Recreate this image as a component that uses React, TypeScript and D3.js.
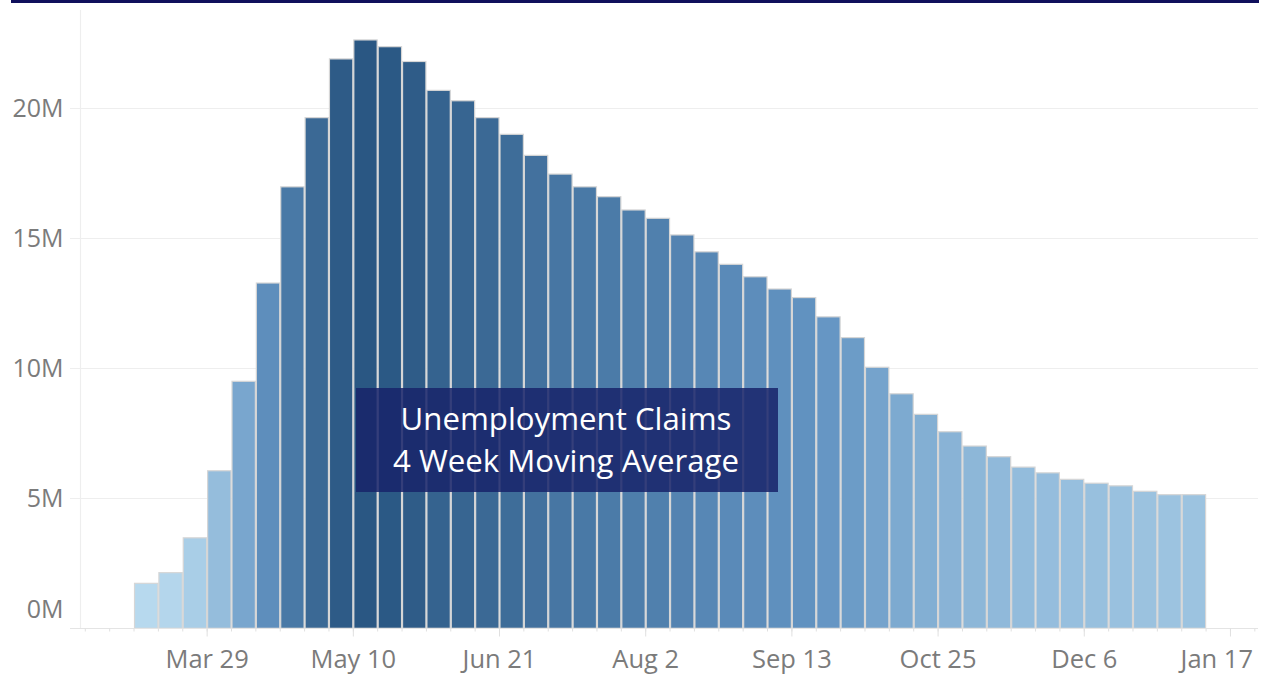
import React from "react";
import * as d3 from "d3";

// Week start dates (Sundays), 2020-2021
const weekStarts: string[] = [
  "2020-03-08","2020-03-15","2020-03-22","2020-03-29","2020-04-05","2020-04-12","2020-04-19","2020-04-26",
  "2020-05-03","2020-05-10","2020-05-17","2020-05-24","2020-05-31","2020-06-07","2020-06-14","2020-06-21",
  "2020-06-28","2020-07-05","2020-07-12","2020-07-19","2020-07-26","2020-08-02","2020-08-09","2020-08-16",
  "2020-08-23","2020-08-30","2020-09-06","2020-09-13","2020-09-20","2020-09-27","2020-10-04","2020-10-11",
  "2020-10-18","2020-10-25","2020-11-01","2020-11-08","2020-11-15","2020-11-22","2020-11-29","2020-12-06",
  "2020-12-13","2020-12-20","2020-12-27","2021-01-03"
];

// 4-week moving average of unemployment claims, millions
const claims: number[] = [
  1.73, 2.14, 3.48, 6.06, 9.5, 13.28, 16.98, 19.64,
  21.9, 22.63, 22.37, 21.8, 20.69, 20.29, 19.64, 19.0,
  18.19, 17.47, 16.98, 16.6, 16.09, 15.77, 15.13, 14.48,
  14.0, 13.52, 13.05, 12.72, 11.98, 11.18, 10.04, 9.02,
  8.23, 7.56, 7.01, 6.6, 6.2, 5.98, 5.73, 5.58,
  5.48, 5.27, 5.14, 5.14
];

const yTicks: number[] = [0, 5, 10, 15, 20];
const yTickLabels: string[] = ["0M", "5M", "10M", "15M", "20M"];

const xTickDates: string[] = ["2020-03-29","2020-05-10","2020-06-21","2020-08-02","2020-09-13","2020-10-25","2020-12-06","2021-01-17"];
const xTickLabels: string[] = ["Mar 29","May 10","Jun 21","Aug 2","Sep 13","Oct 25","Dec 6","Jan 17"];

const titleLines: string[] = ["Unemployment Claims", "4 Week Moving Average"];

const parse = (s: string) => new Date(s + "T00:00:00Z");
const DAY = 86400000;

export default function App() {
  const W = 1265, H = 675;
  const x = d3.scaleUtc()
    .domain([parse("2020-02-23"), parse("2021-01-24")])
    .range([85.3, 85.3 + 48 * 24.365]);
  const y = d3.scaleLinear().domain([0, 20]).range([628.3, 108.3]);
  const color = d3.scaleLinear<string>()
    .domain([d3.min(claims)!, (d3.min(claims)! + d3.max(claims)!) / 2, d3.max(claims)!])
    .range(["#b7d9ee", "#6495c3", "#2a5783"])
    .interpolate(d3.interpolateRgb);

  const minorTicks = d3.utcWeek.range(parse("2020-02-23"), parse("2021-01-25"));
  const font = "'Open Sans', sans-serif";
  const axisY = 628.5;
  const lastIdx = xTickDates.length - 1;

  return (
    <div style={{ position: "absolute", left: 0, top: 0 }}>
      <svg width={W} height={H} style={{ display: "block", background: "#fff" }}>
        <rect x={11} y={0} width={1248} height={3} fill="#10105c" />
        {/* gridlines */}
        {yTicks.filter(t => t > 0).map(t => (
          <line key={"g" + t} x1={70} x2={1258} y1={Math.round(y(t)) + 0.5} y2={Math.round(y(t)) + 0.5} stroke="#eeeeee" strokeWidth={1.2} />
        ))}
        {/* y axis line */}
        <line x1={80.5} x2={80.5} y1={10} y2={axisY} stroke="#eeeeee" strokeWidth={1.2} />
        {/* y labels */}
        {yTicks.map((t, i) => (
          <text key={"yl" + t} x={63.5} y={(t === 0 ? y(t) - 19 : y(t)) + 9} textAnchor="end" fontFamily={font} fontSize={25} fill="#7b7b7b">{yTickLabels[i]}</text>
        ))}
        {/* bars */}
        {claims.map((v, i) => {
          const d0 = parse(weekStarts[i]);
          const d1 = new Date(d0.getTime() + 7 * DAY);
          const x0 = x(d0), x1 = x(d1);
          return (
            <rect key={"b" + i} x={x0 + 0.5} y={y(v)} width={x1 - x0 - 1} height={y(0) - y(v)}
              fill={color(v)} stroke="#d6d6d6" strokeWidth={1.2} />
          );
        })}
        {/* x axis */}
        <line x1={70} x2={1258} y1={axisY} y2={axisY} stroke="#e4e4e4" strokeWidth={1.2} />
        {minorTicks.map((d, i) => (
          <line key={"mt" + i} x1={x(d)} x2={x(d)} y1={axisY} y2={axisY + 3} stroke="#e0e0e0" strokeWidth={1} />
        ))}
        {xTickDates.map((s, i) => (
          <g key={"xt" + i}>
            <line x1={x(parse(s))} x2={x(parse(s))} y1={axisY} y2={axisY + 8} stroke="#e0e0e0" strokeWidth={1} />
            <text x={i === lastIdx ? 1253 : x(parse(s))} y={668} textAnchor={i === lastIdx ? "end" : "middle"}
              fontFamily={font} fontSize={25.5} fill="#7b7b7b">{xTickLabels[i]}</text>
          </g>
        ))}
        {/* annotation */}
        <rect x={356} y={388} width={422} height={104} fill="#17236a" fillOpacity={0.85} />
        {titleLines.map((t, i) => (
          <text key={"t" + i} x={566} y={430 + i * 42} textAnchor="middle" fontFamily={font} fontSize={31.2} fill="#ffffff">{t}</text>
        ))}
      </svg>
    </div>
  );
}
